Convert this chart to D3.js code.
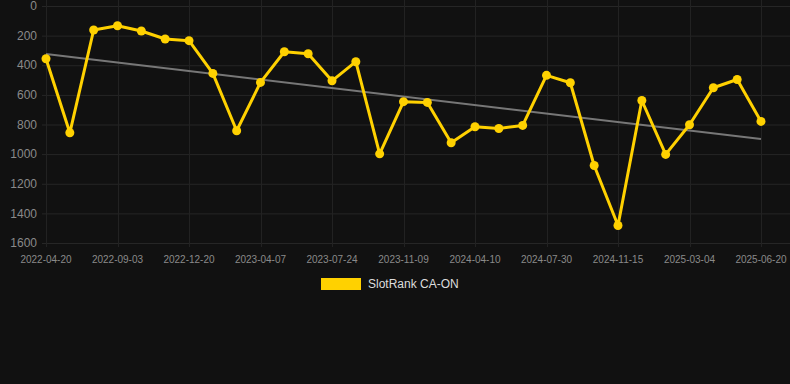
<!DOCTYPE html>
<html>
<head>
<meta charset="utf-8">
<script src="https://cdn.jsdelivr.net/npm/d3@7"></script>
<style>
    html, body { margin: 0; padding: 0; background: #111111; }
    svg { display: block; font-family: "Liberation Sans", Arial, sans-serif; }
</style>
</head>
<body>
<div id="chart"></div>
<script>
// Dates of each ranking snapshot (only every third is labelled on the axis)
const dates = [
    '2022-04-20', '2022-06-04', '2022-07-19', '2022-09-03', '2022-10-09', '2022-11-14',
    '2022-12-20', '2023-01-25', '2023-03-02', '2023-04-07', '2023-05-13', '2023-06-18',
    '2023-07-24', '2023-08-29', '2023-10-04', '2023-11-09', '2023-12-30', '2024-02-19',
    '2024-04-10', '2024-05-16', '2024-06-23', '2024-07-30', '2024-09-04', '2024-10-10',
    '2024-11-15', '2024-12-21', '2025-01-27', '2025-03-04', '2025-04-09', '2025-05-15',
    '2025-06-20'
];

// SlotRank CA-ON rank values
const ranks = [
    356, 856, 162, 133, 169, 223, 234, 455, 842, 516,
    309, 322, 505, 376, 998, 646, 651, 923, 815, 827,
    806, 468, 518, 1077, 1482, 638, 1002, 802, 552, 496,
    779
];

const yTicks = [0, 200, 400, 600, 800, 1000, 1200, 1400, 1600];
const seriesName = 'SlotRank CA-ON';

const width = 790;
const height = 384;
const margin = { top: 6, right: 29, bottom: 141, left: 46 };

const svg = d3.select('#chart')
    .append('svg')
    .attr('width', width)
    .attr('height', height);

svg.append('rect')
    .attr('width', width)
    .attr('height', height)
    .attr('fill', '#111111');

// Scales
const x = d3.scalePoint()
    .domain(dates)
    .range([margin.left, width - margin.right]);

const y = d3.scaleLinear()
    .domain([0, 1600])
    .range([margin.top, height - margin.bottom]);

// Grid lines
const grid = svg.append('g');
grid.selectAll('line.h')
    .data(yTicks)
    .enter()
    .append('line')
    .attr('class', 'h')
    .attr('x1', margin.left - 4)
    .attr('x2', width)
    .attr('y1', d => y(d) + 0.5)
    .attr('y2', d => y(d) + 0.5)
    .style('stroke', '#262626')
    .style('stroke-width', 1);

const labelled = dates.filter((d, i) => i % 3 === 0);
grid.selectAll('line.v')
    .data(labelled)
    .enter()
    .append('line')
    .attr('class', 'v')
    .attr('x1', d => Math.round(x(d)) + 0.5)
    .attr('x2', d => Math.round(x(d)) + 0.5)
    .attr('y1', 0)
    .attr('y2', y(1600) + 4)
    .style('stroke', '#222222')
    .style('stroke-width', 1);

// Y axis labels
svg.append('g')
    .selectAll('text')
    .data(yTicks)
    .enter()
    .append('text')
    .attr('x', 37)
    .attr('y', d => y(d))
    .attr('dy', '0.35em')
    .attr('text-anchor', 'end')
    .style('font-size', '12px')
    .style('fill', '#8a8a8a')
    .text(d => d);

// X axis labels
svg.append('g')
    .selectAll('text')
    .data(labelled)
    .enter()
    .append('text')
    .attr('x', d => x(d))
    .attr('y', 259)
    .attr('dy', '0.35em')
    .attr('text-anchor', 'middle')
    .style('font-size', '10px')
    .style('fill', '#8a8a8a')
    .text(d => d);

// Linear trend line (least squares over the series)
const n = ranks.length;
const meanI = d3.mean(ranks, (d, i) => i);
const meanV = d3.mean(ranks);
const slope = d3.sum(ranks, (d, i) => (i - meanI) * (d - meanV)) /
    d3.sum(ranks, (d, i) => (i - meanI) * (i - meanI));
const intercept = meanV - slope * meanI;

svg.append('line')
    .attr('x1', x(dates[0]))
    .attr('y1', y(intercept))
    .attr('x2', x(dates[n - 1]))
    .attr('y2', y(intercept + slope * (n - 1)))
    .style('stroke', '#777777')
    .style('stroke-width', 2);

// Series line
const line = d3.line()
    .x((d, i) => x(dates[i]))
    .y(d => y(d));

svg.append('path')
    .datum(ranks)
    .attr('d', line)
    .style('fill', 'none')
    .style('stroke', '#FFD100')
    .style('stroke-width', 3)
    .style('stroke-linejoin', 'round');

svg.append('g')
    .selectAll('circle')
    .data(ranks)
    .enter()
    .append('circle')
    .attr('cx', (d, i) => x(dates[i]))
    .attr('cy', d => y(d))
    .attr('r', 4.5)
    .style('fill', '#FFD100');

// Legend
const legend = svg.append('g');
legend.append('rect')
    .attr('x', 321)
    .attr('y', 278)
    .attr('width', 40)
    .attr('height', 12)
    .style('fill', '#FFD100');
legend.append('text')
    .attr('x', 368)
    .attr('y', 284)
    .attr('dy', '0.35em')
    .style('font-size', '12px')
    .style('fill', '#dddddd')
    .text(seriesName);
</script>
</body>
</html>
